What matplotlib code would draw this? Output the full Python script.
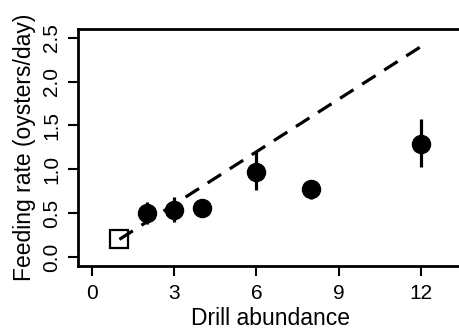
import matplotlib
matplotlib.use("Agg")
import matplotlib.pyplot as plt
import numpy as np

plt.rcParams['font.family'] = ['Liberation Sans', 'DejaVu Sans']

# Data
drill = [2, 3, 4, 6, 8, 12]
rate = [0.50, 0.54, 0.56, 0.97, 0.77, 1.29]
err_low = [0.38, 0.40, 0.51, 0.76, 0.66, 1.03]
err_high = [0.63, 0.68, 0.60, 1.20, 0.88, 1.57]
single_x = [1]
single_y = [0.20]
line_x = [1, 12]
line_y = [0.2, 2.4]
xticks = [0, 3, 6, 9, 12]
yticks = [0.0, 0.5, 1.0, 1.5, 2.0, 2.5]

fig = plt.figure(figsize=(4.59, 3.30), dpi=100)
ax = fig.add_axes([77.7/459, 1 - 265.7/330, (462.7-77.7)/459, (265.7-29)/330])

ax.plot(line_x, line_y, color='black', lw=2.3, ls=(0, (5, 3.2)), zorder=3)
ax.vlines(drill, err_low, err_high, color='black', lw=2.3, zorder=2)
ax.plot(drill, rate, 'o', color='black', ms=13, zorder=4)
ax.plot(single_x, single_y, 's', mfc='white', mec='black', mew=1.6, ms=12.5, zorder=2)

ax.set_xlim(-0.52, 13.52)
ax.set_ylim(-0.1, 2.6)
ax.set_xticks(xticks)
ax.set_xticklabels([str(t) for t in xticks])
ax.set_yticks(yticks)
ax.set_yticklabels([f"{t:.1f}" for t in yticks], rotation=90, va='center')

for s in ax.spines.values():
    s.set_linewidth(2.0)
ax.tick_params(axis='both', direction='out', length=7, width=1.5, labelsize=15, pad=5)
ax.tick_params(axis='x', pad=6)

ax.set_xlabel("Drill abundance", fontsize=16.5, labelpad=3)
ax.set_ylabel("Feeding rate (oysters/day)", fontsize=16.5, labelpad=4)

fig.savefig("out.png", dpi=100)
